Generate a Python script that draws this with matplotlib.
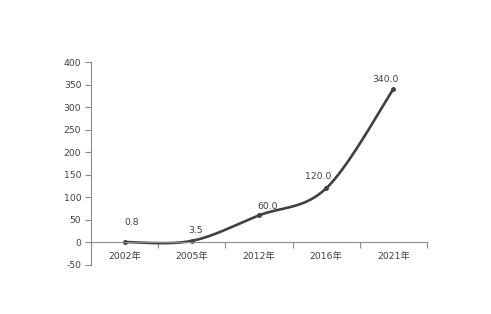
import numpy as np
import matplotlib
matplotlib.use('Agg')
from matplotlib import pyplot as plt

plt.rcParams['font.family'] = ['DejaVu Sans', 'Noto Sans CJK SC']
plt.rcParams['axes.unicode_minus'] = False

years = ['2002年', '2005年', '2012年', '2016年', '2021年']
values = [0.8, 3.5, 60.0, 120.0, 340.0]
value_labels = ['0.8', '3.5', '60.0', '120.0', '340.0']

text_color = '#404040'
axis_color = '#8c8c8c'
line_color = '#404040'


def smooth(xs, ys, n=40):
    # excel-style smoothed line: bezier segments with catmull-rom control points
    pts = np.column_stack([xs, ys]).astype(float)
    p = np.vstack([pts[0], pts, pts[-1]])
    out = []
    t = np.linspace(0, 1, n)[:, None]
    for i in range(1, len(p) - 2):
        p0, p1, p2, p3 = p[i - 1], p[i], p[i + 1], p[i + 2]
        c1 = p1 + (p2 - p0) / 6.
        c2 = p2 - (p3 - p1) / 6.
        seg = ((1 - t) ** 3) * p1 + 3 * ((1 - t) ** 2) * t * c1 + 3 * (1 - t) * t ** 2 * c2 + t ** 3 * p2
        out.append(seg)
    out = np.vstack(out)
    return out[:, 0], out[:, 1]


fig = plt.figure(figsize=(4.91, 3.14), dpi=100)
ax = fig.add_axes([91 / 491., 1 - 265 / 314., 336 / 491., 203 / 314.])

x = np.arange(len(values))
sx, sy = smooth(x, values)
ax.plot(sx, sy, color=line_color, linewidth=1.9, solid_capstyle='round')
ax.plot(x, values, 'o', color=line_color, markersize=2.5)

offsets = [(5, 11), (3, 4.5), (6, 3), (-6, 5), (-6, 3.5)]
for xi, v, lab, off in zip(x, values, value_labels, offsets):
    ax.annotate(lab, (xi, v), xytext=off, textcoords='offset points',
                ha='center', va='bottom', fontsize=6.7, color=text_color)

ax.set_xlim(-0.5, len(values) - 0.5)
ax.set_ylim(-50, 400)
ax.set_yticks(np.arange(-50, 401, 50))
ax.tick_params(axis='y', direction='out', length=4, width=0.8, color=axis_color,
               labelsize=6.7, labelcolor=text_color, pad=3)

ax.set_xticks(x)
ax.set_xticklabels(years)
ax.set_xticks(np.arange(-0.5, len(values), 1.0), minor=True)
ax.tick_params(axis='x', which='major', length=0, labelsize=6.7, labelcolor=text_color, pad=7)
ax.tick_params(axis='x', which='minor', direction='out', length=4, width=0.8, color=axis_color)

ax.spines['top'].set_visible(False)
ax.spines['right'].set_visible(False)
ax.spines['bottom'].set_position(('data', 0))
ax.spines['bottom'].set_color(axis_color)
ax.spines['left'].set_color(axis_color)
ax.spines['bottom'].set_linewidth(0.8)
ax.spines['left'].set_linewidth(0.8)

fig.savefig('out.png', dpi=100)
